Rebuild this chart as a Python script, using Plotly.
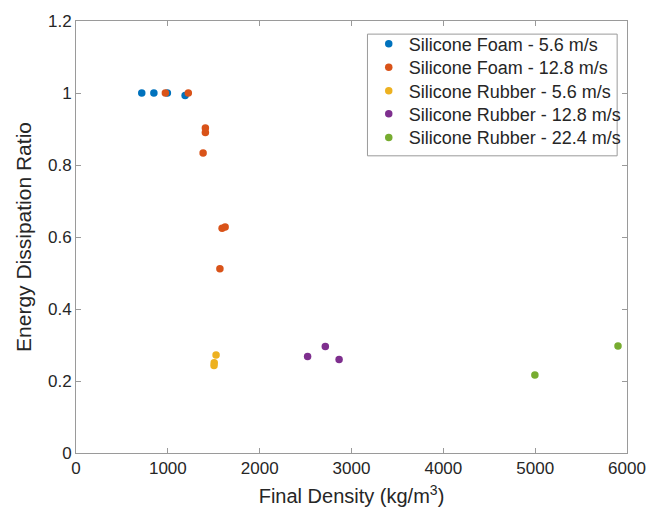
import plotly.graph_objects as go

series_names = [
    "Silicone Foam - 5.6 m/s",
    "Silicone Foam - 12.8 m/s",
    "Silicone Rubber - 5.6 m/s",
    "Silicone Rubber - 12.8 m/s",
    "Silicone Rubber - 22.4 m/s",
]

foam_56_x = [716, 848, 995, 1188]
foam_56_y = [1.0, 1.0, 1.0, 0.993]

foam_128_x = [973, 1223, 1409, 1409, 1384, 1591, 1624, 1567]
foam_128_y = [1.0, 1.0, 0.903, 0.890, 0.833, 0.624, 0.628, 0.512]

rubber_56_x = [1525, 1505, 1503]
rubber_56_y = [0.272, 0.251, 0.243]

rubber_128_x = [2522, 2715, 2865]
rubber_128_y = [0.268, 0.296, 0.260]

rubber_224_x = [4997, 5902]
rubber_224_y = [0.217, 0.297]

colors = ["#0072BD", "#D95319", "#EDB120", "#7E2F8E", "#77AC30"]

x_ticks = [0, 1000, 2000, 3000, 4000, 5000, 6000]
y_ticks = [0, 0.2, 0.4, 0.6, 0.8, 1.0, 1.2]
y_tick_text = ["0", "0.2", "0.4", "0.6", "0.8", "1", "1.2"]

xs = [foam_56_x, foam_128_x, rubber_56_x, rubber_128_x, rubber_224_x]
ys = [foam_56_y, foam_128_y, rubber_56_y, rubber_128_y, rubber_224_y]

font_family = "Liberation Sans, Arial, sans-serif"
text_color = "#262626"
axis_color = "#9a9a9a"

# plot-area geometry (px) used only for legend placement
plot_top, plot_bottom = 15, 453
plot_left, plot_right = 76, 635
legend_rows_px = [38.3, 62.3, 86.0, 109.3, 133.3]
legend_left_px = 373
legend_box_px = (371.7, 28.3, 625.0, 151.7)


def px_to_paper_y(py):
    return (plot_bottom - py) / (plot_bottom - plot_top)


def px_to_paper_x(px):
    return (px - plot_left) / (plot_right - plot_left)


fig = go.Figure()
legend_ids = ["legend", "legend2", "legend3", "legend4", "legend5"]
for name, x, y, c, lid in zip(series_names, xs, ys, colors, legend_ids):
    fig.add_trace(go.Scatter(
        x=x, y=y, mode="markers", name=name, legend=lid,
        marker=dict(color=c, size=7.5, line=dict(width=0)),
    ))

layout_legends = {}
for lid, row in zip(legend_ids, legend_rows_px):
    layout_legends[lid] = dict(
        x=px_to_paper_x(legend_left_px), y=px_to_paper_y(row), xanchor="left", yanchor="middle",
        bgcolor="rgba(0,0,0,0)", borderwidth=0,
        font=dict(family=font_family, size=18, color=text_color),
        itemwidth=30,
    )

fig.update_layout(
    width=658, height=519,
    margin=dict(l=plot_left, r=658 - plot_right, t=plot_top, b=519 - plot_bottom),
    paper_bgcolor="white", plot_bgcolor="white",
    font=dict(family=font_family, color=text_color, size=17),
    showlegend=True,
    **layout_legends,
)

bx0, by0, bx1, by1 = legend_box_px
fig.add_shape(
    type="rect", xref="paper", yref="paper",
    x0=px_to_paper_x(bx0), x1=px_to_paper_x(bx1),
    y0=px_to_paper_y(by1), y1=px_to_paper_y(by0),
    line=dict(color=axis_color, width=1), fillcolor="white", layer="above",
)

fig.update_xaxes(
    range=[0, 6000], tickvals=x_ticks, ticks="inside", ticklen=5,
    tickcolor=axis_color, showline=True, linecolor=axis_color, linewidth=1,
    mirror="ticks", showgrid=False, zeroline=False,
    tickfont=dict(size=17, color=text_color),
    title=dict(text="Final Density (kg/m<sup>3</sup>)", font=dict(size=20, color=text_color), standoff=11),
)
fig.update_yaxes(
    range=[0, 1.2], tickvals=y_ticks, ticktext=y_tick_text, ticks="inside", ticklen=5,
    tickcolor=axis_color, showline=True, linecolor=axis_color, linewidth=1,
    mirror="ticks", showgrid=False, zeroline=False,
    tickfont=dict(size=17, color=text_color),
    title=dict(text="Energy Dissipation Ratio", font=dict(size=21, color=text_color), standoff=10),
)

fig.write_html("out.html")
